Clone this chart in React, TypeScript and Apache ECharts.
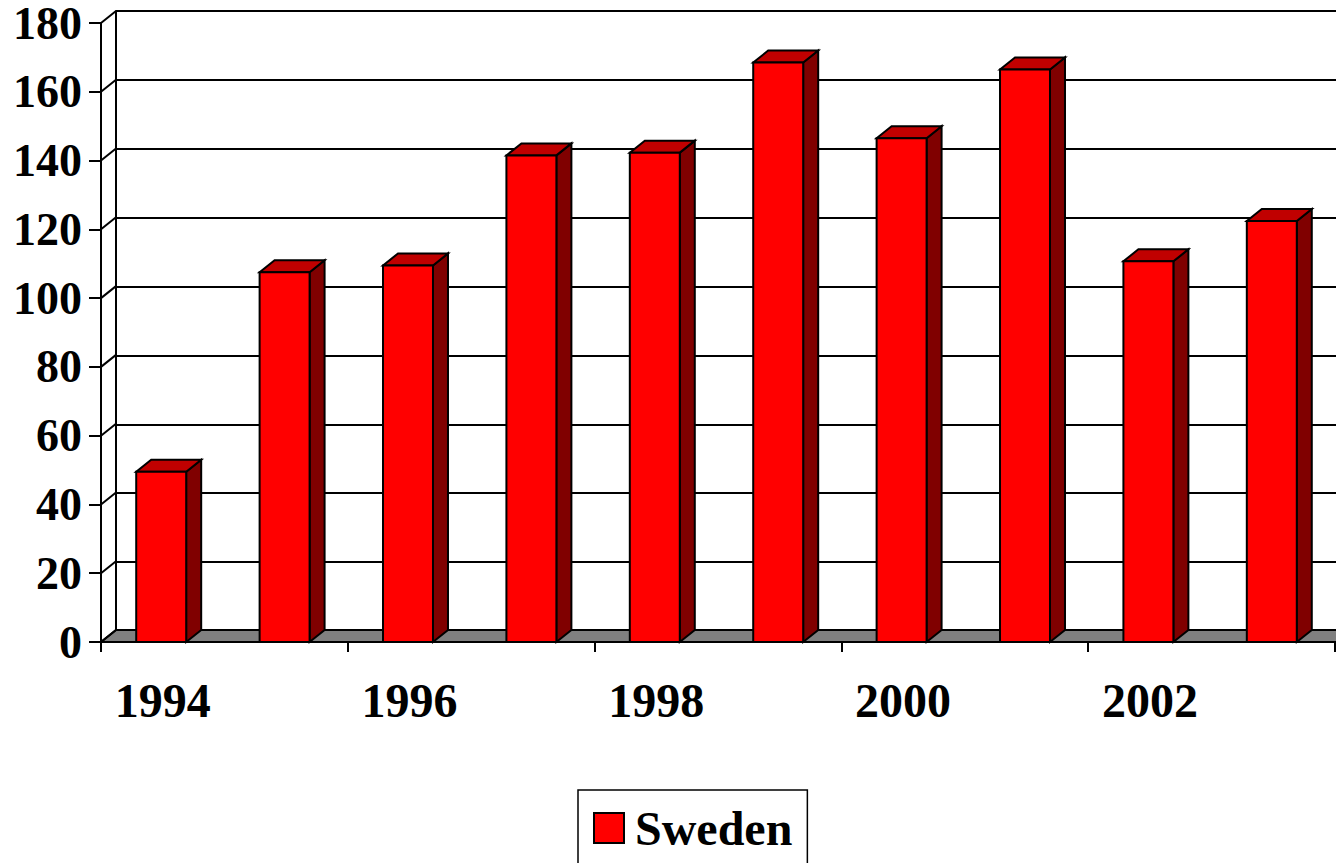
import React, { useEffect, useRef } from "react";
import * as echarts from "echarts";

const years = ["1994", "1995", "1996", "1997", "1998", "1999", "2000", "2001", "2002", "2003"];
const sweden = [49.5, 107.5, 109.5, 141.5, 142.3, 168.5, 146.5, 166.5, 110.7, 122.4];
const yTicks = [0, 20, 40, 60, 80, 100, 120, 140, 160, 180];
const seriesName = "Sweden";

const DX = 15;
const DY = -12;
const FONT = "'Liberation Serif', 'Times New Roman', serif";
const BLACK = "#000000";

export default function App() {
  const ref = useRef<HTMLDivElement>(null);

  useEffect(() => {
    const chart = echarts.init(ref.current!, null, { renderer: "svg" });
    const line = { color: BLACK, width: 2 };
    chart.setOption({
      animation: false,
      backgroundColor: "#ffffff",
      grid: [
        { left: 101, top: 23, width: 1234, height: 619 },
        { left: 116, top: 11, width: 1234, height: 620 },
      ],
      xAxis: [
        {
          type: "category",
          gridIndex: 0,
          data: years,
          boundaryGap: true,
          axisLine: { show: true, lineStyle: line },
          axisTick: { show: true, interval: 1, length: 10, lineStyle: line },
          axisLabel: {
            interval: 1,
            margin: 34,
            fontSize: 48,
            fontWeight: "bold",
            fontFamily: FONT,
            color: BLACK,
          },
          splitLine: { show: false },
        },
        { type: "category", gridIndex: 1, data: years, show: false },
      ],
      yAxis: [
        {
          type: "value",
          gridIndex: 0,
          min: 0,
          max: 180,
          interval: 20,
          axisLine: { show: true, lineStyle: line },
          axisTick: { show: true, length: 12, lineStyle: line },
          axisLabel: {
            margin: 19,
            fontSize: 46,
            lineHeight: 40,
            fontWeight: "bold",
            fontFamily: FONT,
            color: BLACK,
          },
          splitLine: { show: false },
        },
        {
          type: "value",
          gridIndex: 1,
          min: 0,
          max: 180,
          interval: 20,
          axisLine: { show: true, lineStyle: line },
          axisTick: { show: false },
          axisLabel: { show: false },
          splitLine: { show: true, lineStyle: line },
        },
      ],
      legend: {
        show: true,
        left: 578,
        top: 790,
        padding: [14, 15, 40, 15],
        borderColor: BLACK,
        borderWidth: 1.5,
        itemWidth: 30,
        itemHeight: 30,
        data: [
          {
            name: seriesName,
            icon: "rect",
            itemStyle: { color: "#ff0000", borderColor: BLACK, borderWidth: 2 },
          },
        ],
        textStyle: {
          fontSize: 48,
          fontWeight: "bold",
          fontFamily: FONT,
          color: BLACK,
          padding: [0, 0, 0, 6],
        },
      },
      series: [
        {
          type: "custom",
          name: "floor",
          xAxisIndex: 0,
          yAxisIndex: 0,
          z: 1,
          silent: true,
          data: [[0, 0]],
          renderItem: (params: any, api: any) => {
            const cs = params.coordSys;
            const yb = cs.y + cs.height;
            return {
              type: "polygon",
              shape: {
                points: [
                  [cs.x, yb],
                  [cs.x + cs.width + 2, yb],
                  [cs.x + cs.width + 2 + DX, yb + DY],
                  [cs.x + DX, yb + DY],
                ],
              },
              style: { fill: "#808080", stroke: BLACK, lineWidth: 2 },
            };
          },
        },
        {
          type: "custom",
          name: "wallTicks",
          xAxisIndex: 0,
          yAxisIndex: 0,
          z: 1,
          silent: true,
          data: yTicks.map((v) => [0, v]),
          renderItem: (params: any, api: any) => {
            const cs = params.coordSys;
            const y = api.coord([0, api.value(1)])[1];
            return {
              type: "line",
              shape: { x1: cs.x, y1: y, x2: cs.x + DX, y2: y + DY },
              style: { stroke: BLACK, lineWidth: 2 },
            };
          },
        },
        {
          type: "custom",
          name: seriesName,
          xAxisIndex: 0,
          yAxisIndex: 0,
          z: 5,
          itemStyle: { color: "#ff0000" },
          data: sweden.map((v, i) => [i, v]),
          renderItem: (params: any, api: any) => {
            const i = api.value(0);
            const v = api.value(1);
            const top = api.coord([i, v]);
            const base = api.coord([i, 0]);
            const band = api.size([1, 0])[0];
            const w = band * 0.405;
            const x0 = top[0] - w / 2 - 1.5;
            const x1 = x0 + w;
            const yt = top[1];
            const yb = base[1];
            const stroke = { stroke: BLACK, lineWidth: 2 };
            return {
              type: "group",
              children: [
                {
                  type: "polygon",
                  shape: {
                    points: [
                      [x1, yt],
                      [x1 + DX, yt + DY],
                      [x1 + DX, yb + DY],
                      [x1, yb],
                    ],
                  },
                  style: { fill: "#800000", ...stroke },
                },
                {
                  type: "polygon",
                  shape: {
                    points: [
                      [x0, yt],
                      [x1, yt],
                      [x1 + DX, yt + DY],
                      [x0 + DX, yt + DY],
                    ],
                  },
                  style: { fill: "#c00000", ...stroke },
                },
                {
                  type: "rect",
                  shape: { x: x0, y: yt, width: w, height: yb - yt },
                  style: { fill: "#ff0000", ...stroke },
                },
              ],
            };
          },
        },
      ],
    });
    return () => chart.dispose();
  }, []);

  return (
    <div
      ref={ref}
      style={{ position: "fixed", left: 0, top: 0, width: 1336, height: 863 }}
    />
  );
}
